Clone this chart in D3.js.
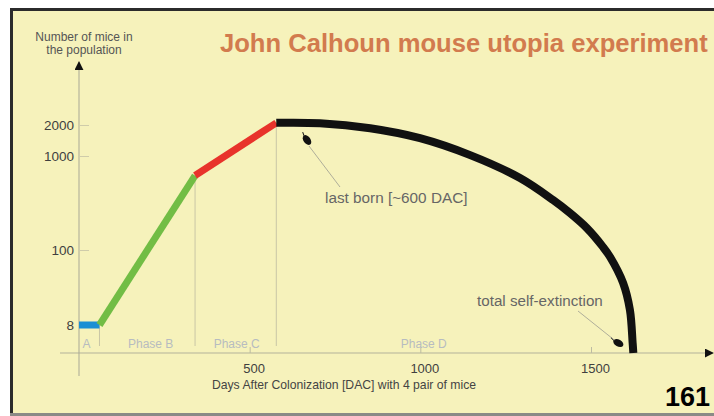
<!DOCTYPE html>
<html>
<head>
<meta charset="utf-8">
<script src="https://cdn.jsdelivr.net/npm/d3@7"></script>
<style>
  body { margin: 0; background: #fff; }
  svg { display: block; font-family: "Liberation Sans", Arial, sans-serif; }
</style>
</head>
<body>
<div id="chart-area"></div>
<script>
// values
var growthDays = [0, 60, 340, 578];
var growthMice = [8, 8, 620, 2100];
var growthColors = ["#1b8fd4", "#72bd45", "#e8332b"];

var declineDays = [578, 706, 853, 999, 1146, 1292, 1389, 1438, 1488, 1535, 1556, 1594, 1614, 1622, 1624];
var declineMice = [2100, 2080, 1860, 1490, 1020, 583, 340, 248, 171, 108, 79, 33, 13.3, 2.1, 1];

var phaseNames = ["A", "Phase B", "Phase C", "Phase D"];
var phaseLabelDays = [22, 210, 462, 1010];

var yTicks = [8, 100, 1000, 2000];
var xTicks = [500, 1000, 1500];

var lastBornDay = 668, lastBornMice = 1430;
var extinctionDay = 1580, extinctionMice = 2.1;

var width = 714,
    height = 416;

var svg = d3.select("#chart-area").append("svg")
    .attr("width", width)
    .attr("height", height);

// slide frame
svg.append("rect")
    .attr("x", 10).attr("y", 8)
    .attr("width", 710).attr("height", 408)
    .attr("fill", "#f6f2bb");
svg.append("rect").attr("x", 10).attr("y", 8).attr("width", 710).attr("height", 3).attr("fill", "#2b2b2b");
svg.append("rect").attr("x", 10).attr("y", 8).attr("width", 3).attr("height", 408).attr("fill", "#2b2b2b");
svg.append("rect").attr("x", 10).attr("y", 413).attr("width", 710).attr("height", 3).attr("fill", "#8a8a86");

// scales (y is a stretched log scale, like the hand drawn original)
var xScale = d3.scaleLinear()
    .domain([0, 1500])
    .range([79, 591]);

var yScale = d3.scaleLog()
    .domain([1, 8, 100, 1000, 2000])
    .range([353, 325, 250, 156, 125]);

// axis lines with arrows
svg.append("defs").append("marker")
    .attr("id", "arrow")
    .attr("viewBox", "0 0 10 10")
    .attr("refX", 9).attr("refY", 5)
    .attr("markerWidth", 9).attr("markerHeight", 9)
    .attr("markerUnits", "userSpaceOnUse")
    .attr("orient", "auto")
    .append("path")
    .attr("d", "M0,0L10,5L0,10z")
    .attr("fill", "#111");

svg.append("line")
    .attr("x1", 60).attr("x2", 713)
    .attr("y1", 353).attr("y2", 353)
    .attr("stroke", "#b3b29a").attr("stroke-width", 1)
    .attr("marker-end", "url(#arrow)");

svg.append("line")
    .attr("x1", 79).attr("x2", 79)
    .attr("y1", 376).attr("y2", 62)
    .attr("stroke", "#a9a895").attr("stroke-width", 1)
    .attr("marker-end", "url(#arrow)");

// y axis ticks + labels
var yAxis = d3.axisLeft(yScale)
    .tickValues(yTicks)
    .tickFormat(d3.format("d"))
    .tickSizeInner(-10)
    .tickSizeOuter(0)
    .tickPadding(5);
var gy = svg.append("g")
    .attr("transform", "translate(79,0)")
    .call(yAxis);
gy.select(".domain").remove();
gy.selectAll("line").attr("stroke", "#cfccaa");
gy.selectAll("text")
    .attr("fill", "#3f3f3f")
    .style("font-size", "13.5px");

// x axis ticks + labels
var xAxis = d3.axisBottom(xScale)
    .tickValues(xTicks)
    .tickFormat(d3.format("d"))
    .tickSizeInner(-6)
    .tickSizeOuter(0)
    .tickPadding(11);
var gx = svg.append("g")
    .attr("transform", "translate(0,353)")
    .call(xAxis);
gx.select(".domain").remove();
gx.selectAll("line").attr("stroke", "#bdbba2");
gx.selectAll("text")
    .attr("dx", 4)
    .attr("fill", "#3f3f3f")
    .style("font-size", "13px");
gx.attr("font-family", null);
gy.attr("font-family", null);

// phase separators
svg.selectAll(".sep")
    .data(growthDays.slice(1))
    .enter()
    .append("line")
    .attr("x1", (d) => xScale(d))
    .attr("x2", (d) => xScale(d))
    .attr("y1", (d, i) => yScale(growthMice[i + 1]))
    .attr("y2", 346)
    .attr("stroke", "#c9c6a6")
    .attr("stroke-width", 1);

// phase labels
svg.selectAll(".phase")
    .data(phaseNames)
    .enter()
    .append("text")
    .attr("x", (d, i) => xScale(phaseLabelDays[i]))
    .attr("y", 348)
    .attr("text-anchor", "middle")
    .attr("fill", "#b7bcc0")
    .style("font-size", "12px")
    .text((d) => d);

// growth segments (phase A, B, C)
svg.selectAll(".seg")
    .data(growthColors)
    .enter()
    .append("line")
    .attr("x1", (d, i) => xScale(growthDays[i]))
    .attr("y1", (d, i) => yScale(growthMice[i]))
    .attr("x2", (d, i) => xScale(growthDays[i + 1]))
    .attr("y2", (d, i) => yScale(growthMice[i + 1]))
    .attr("stroke", (d) => d)
    .attr("stroke-width", 7);

// decline (phase D)
var decline = declineDays.map((d, i) => [d, declineMice[i]]);
svg.append("path")
    .datum(decline)
    .attr("fill", "none")
    .attr("stroke", "#111")
    .attr("stroke-width", 8)
    .attr("d", d3.line()
        .x((d) => xScale(d[0]))
        .y((d) => yScale(d[1]))
        .curve(d3.curveCatmullRom.alpha(0.5)));

// annotations: little mice + leader lines
function mouse(cx, cy, rot) {
    var g = svg.append("g")
        .attr("transform", "translate(" + cx + "," + cy + ") rotate(" + rot + ")");
    g.append("ellipse").attr("rx", 5.5).attr("ry", 3.5).attr("fill", "#111");
    g.append("path").attr("d", "M-5,0 L-9,-1").attr("stroke", "#111").attr("stroke-width", 1);
}

var lbx = xScale(lastBornDay), lby = yScale(lastBornMice);
mouse(lbx, lby, 55);
svg.append("line")
    .attr("x1", lbx + 2).attr("y1", lby + 6)
    .attr("x2", 340).attr("y2", 187)
    .attr("stroke", "#9c9c90").attr("stroke-width", 0.8);
svg.append("text")
    .attr("x", 325).attr("y", 203)
    .attr("fill", "#666")
    .style("font-size", "15.3px")
    .text("last born [~600 DAC]");

var exx = xScale(extinctionDay), exy = yScale(extinctionMice);
mouse(exx, exy, 30);
svg.append("line")
    .attr("x1", 578).attr("y1", 311)
    .attr("x2", exx - 4).attr("y2", exy - 3)
    .attr("stroke", "#9c9c90").attr("stroke-width", 0.8);
svg.append("text")
    .attr("x", 477).attr("y", 306)
    .attr("fill", "#666")
    .style("font-size", "15.2px")
    .text("total self-extinction");

// titles
svg.append("text")
    .attr("x", 220).attr("y", 52)
    .attr("fill", "#d27b4e")
    .style("font-size", "25.6px")
    .style("font-weight", "bold")
    .text("John Calhoun mouse utopia experiment");

svg.append("text")
    .attr("x", 84).attr("y", 41)
    .attr("text-anchor", "middle")
    .attr("fill", "#555")
    .style("font-size", "12px")
    .selectAll("tspan")
    .data(["Number of mice in", "the population"])
    .enter()
    .append("tspan")
    .attr("x", 84)
    .attr("dy", (d, i) => i ? 13 : 0)
    .text((d) => d);

svg.append("text")
    .attr("x", 344).attr("y", 389)
    .attr("text-anchor", "middle")
    .attr("fill", "#444")
    .style("font-size", "12.2px")
    .text("Days After Colonization [DAC] with 4 pair of mice");

svg.append("text")
    .attr("x", 710).attr("y", 406)
    .attr("text-anchor", "end")
    .attr("fill", "#000")
    .style("font-size", "27px")
    .style("font-weight", "bold")
    .text("161");
</script>
</body>
</html>
